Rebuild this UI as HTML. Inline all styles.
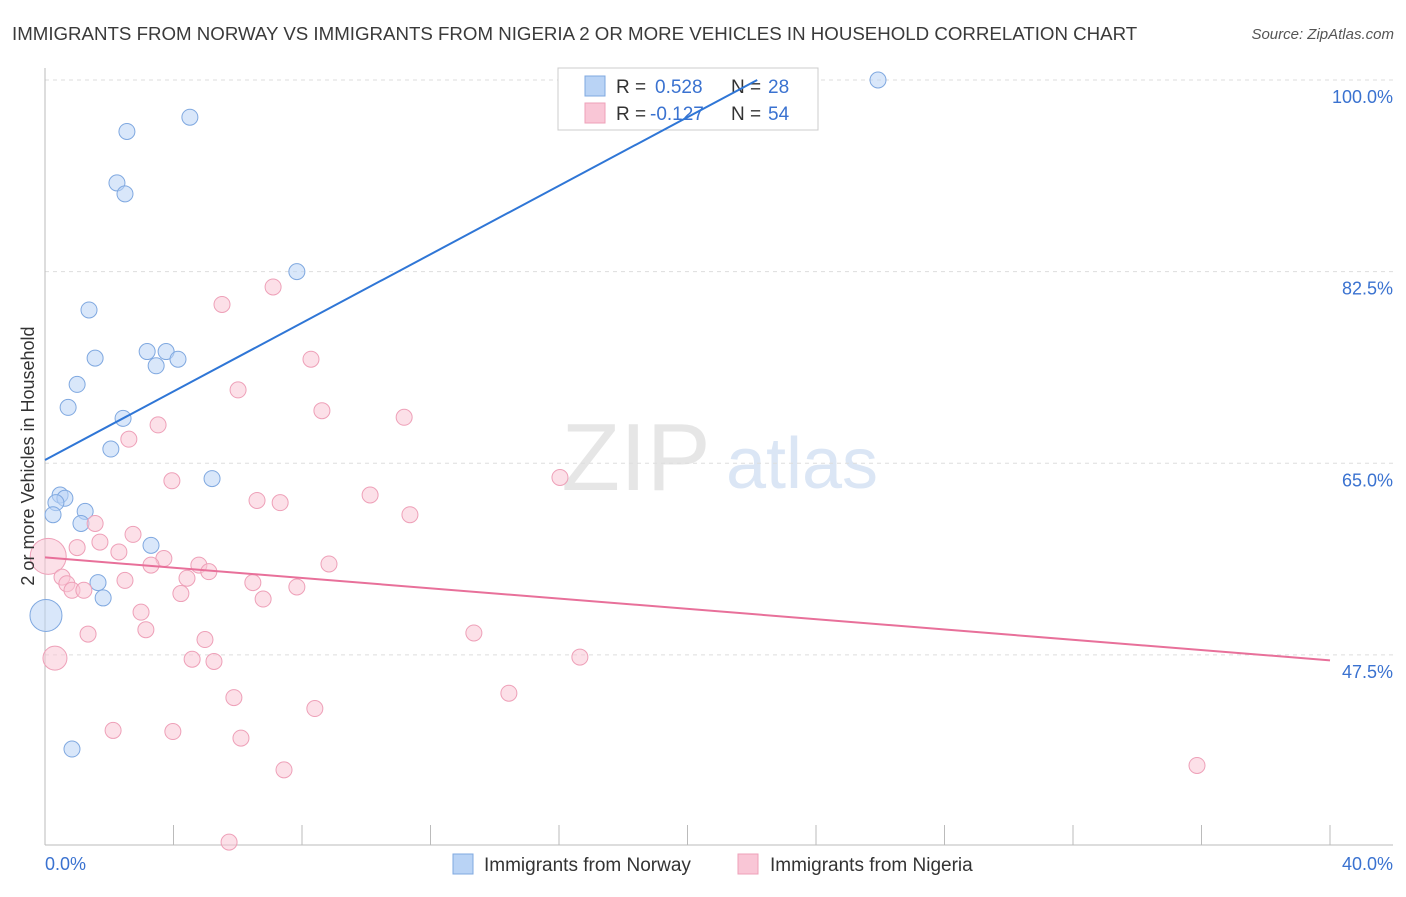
<!DOCTYPE html>
<html><head><meta charset="utf-8">
<style>
body{margin:0;background:#fff;font-family:"Liberation Sans",sans-serif;}
svg text{font-family:"Liberation Sans",sans-serif;}
</style></head>
<body>
<svg id="chart" width="1406" height="892" xmlns="http://www.w3.org/2000/svg">
<text x="12" y="40" font-size="18.7" fill="#3a3a3a">IMMIGRANTS FROM NORWAY VS IMMIGRANTS FROM NIGERIA 2 OR MORE VEHICLES IN HOUSEHOLD CORRELATION CHART</text>
<text x="1394" y="39" font-size="15" fill="#555" text-anchor="end" font-style="italic">Source: ZipAtlas.com</text>
<g>
<text x="636" y="490" font-size="96" fill="#e6e6e6" text-anchor="middle" font-family="Liberation Serif">ZIP</text>
<text x="802" y="488" font-size="72" fill="#dbe6f5" text-anchor="middle">atlas</text>
</g>
<g id="grid"></g>
<g id="axes"></g>
<g>
<rect x="558" y="68" width="260" height="62" fill="#fff" stroke="#ccc"/>
<rect x="585" y="76" width="20" height="20" fill="#b9d3f5" stroke="#7fa8e0"/>
<rect x="585" y="103" width="20" height="20" fill="#f9c6d6" stroke="#eea0b8"/>
<text x="616" y="93" font-size="19" fill="#333">R = <tspan x="655" fill="#3a72d0">0.528</tspan><tspan x="731">N = </tspan><tspan x="768" fill="#3a72d0">28</tspan></text>
<text x="616" y="120" font-size="19" fill="#333">R = <tspan x="650" fill="#3a72d0">-0.127</tspan><tspan x="731">N = </tspan><tspan x="768" fill="#3a72d0">54</tspan></text>
</g>
<g id="marks"></g>
<g>
<rect x="453" y="854" width="20" height="20" fill="#b9d3f5" stroke="#7fa8e0"/>
<text x="484" y="871" font-size="19" fill="#333">Immigrants from Norway</text>
<rect x="738" y="854" width="20" height="20" fill="#f9c6d6" stroke="#eea0b8"/>
<text x="770" y="871" font-size="19" fill="#333">Immigrants from Nigeria</text>
</g>
<text transform="translate(34,456) rotate(-90)" font-size="18" fill="#333" text-anchor="middle">2 or more Vehicles in Household</text>
<text x="45" y="870" font-size="18" fill="#3a72d0">0.0%</text>
<text x="1393" y="870" font-size="18" fill="#3a72d0" text-anchor="end">40.0%</text>
</svg>
<script>
const yTicks=[100,82.5,65,47.5];
const yTickLabels=["100.0%","82.5%","65.0%","47.5%"];
const xTicks=[0,4,8,12,16,20,24,28,32,36,40];
const norwayX=[25.93,4.51,2.55,2.24,2.49,7.84,1.37,3.18,3.77,1.56,3.46,4.14,1.0,0.72,2.43,2.05,5.2,0.47,0.62,0.34,1.25,0.25,1.12,3.3,1.65,1.81,0.03,0.84];
const norwayY=[100,96.6,95.3,90.6,89.6,82.5,79.0,75.2,75.2,74.6,73.9,74.5,72.2,70.1,69.1,66.3,63.6,62.1,61.8,61.4,60.6,60.3,59.5,57.5,54.1,52.7,51.1,38.9];
const norwayR=[8,8,8,8,8,8,8,8,8,8,8,8,8,8,8,8,8,8,8,8,8,8,8,8,8,8,16,8];
const nigeriaX=[5.51,7.1,8.28,6.01,8.62,11.18,3.52,2.61,3.95,16.03,6.6,7.32,10.12,11.36,1.56,2.74,1.0,1.71,2.3,3.7,3.3,0.1,4.79,5.1,4.42,2.49,0.53,0.68,0.84,1.21,6.47,7.84,8.84,4.23,6.79,2.99,3.14,1.34,4.98,13.35,0.31,4.58,5.26,16.65,5.88,14.44,8.4,2.12,3.98,6.1,7.44,35.86,5.73];
const nigeriaY=[79.5,81.1,74.5,71.7,69.8,69.2,68.5,67.2,63.4,63.7,61.6,61.4,62.1,60.3,59.5,58.5,57.3,57.8,56.9,56.3,55.7,56.5,55.7,55.1,54.5,54.3,54.6,54.0,53.4,53.4,54.1,53.7,55.8,53.1,52.6,51.4,49.8,49.4,48.9,49.5,47.2,47.1,46.9,47.3,43.6,44.0,42.6,40.6,40.5,39.9,37.0,37.4,30.4];
const nigeriaR=[8,8,8,8,8,8,8,8,8,8,8,8,8,8,8,8,8,8,8,8,8,18,8,8,8,8,8,8,8,8,8,8,8,8,8,8,8,8,8,8,12,8,8,8,8,8,8,8,8,8,8,8,8];
const norwayTrend=[[0,65.3],[22.17,100]];
const nigeriaTrend=[[0,56.4],[40,47.0]];
const NS="http://www.w3.org/2000/svg";
const X=v=>45+v*32.125, Y=v=>80+(100-v)*10.95;
function mk(tag,attrs,parent){const e=document.createElementNS(NS,tag);for(const k in attrs)e.setAttribute(k,attrs[k]);document.getElementById(parent).appendChild(e);return e;}
yTicks.forEach((t,i)=>{
 const g=mk('line',{x1:45,x2:1393,y1:Y(t),y2:Y(t),stroke:'#ddd','stroke-dasharray':'4,4'},'grid');
 
 
 const l=mk('text',{x:1393,y:Y(t)+23,'font-size':18,fill:'#3a72d0','text-anchor':'end'},'grid');
 l.textContent=yTickLabels[i];
 
 
});
let ax=mk('line',{x1:45,x2:45,y1:68,y2:845,stroke:'#bbb'},'axes');


ax=mk('line',{x1:45,x2:1393,y1:845,y2:845,stroke:'#bbb'},'axes');


xTicks.forEach(t=>{const e=mk('line',{x1:X(t),x2:X(t),y1:825,y2:845,stroke:'#bbb'},'axes');
 
 });
norwayX.forEach((v,i)=>{const c=mk('circle',{cx:X(v),cy:Y(norwayY[i]),r:norwayR[i],fill:'#b9d3f5','fill-opacity':0.55,stroke:'#7fa8e0'},'marks');
 
 });
nigeriaX.forEach((v,i)=>{const c=mk('circle',{cx:X(v),cy:Y(nigeriaY[i]),r:nigeriaR[i],fill:'#f9c6d6','fill-opacity':0.55,stroke:'#eea0b8'},'marks');
 
 });
let tl=mk('line',{x1:X(norwayTrend[0][0]),y1:Y(norwayTrend[0][1]),x2:X(norwayTrend[1][0]),y2:Y(norwayTrend[1][1]),stroke:'#2f76d6','stroke-width':2},'marks');


tl=mk('line',{x1:X(nigeriaTrend[0][0]),y1:Y(nigeriaTrend[0][1]),x2:X(nigeriaTrend[1][0]),y2:Y(nigeriaTrend[1][1]),stroke:'#e8709a','stroke-width':2},'marks');


</script>
</body></html>
